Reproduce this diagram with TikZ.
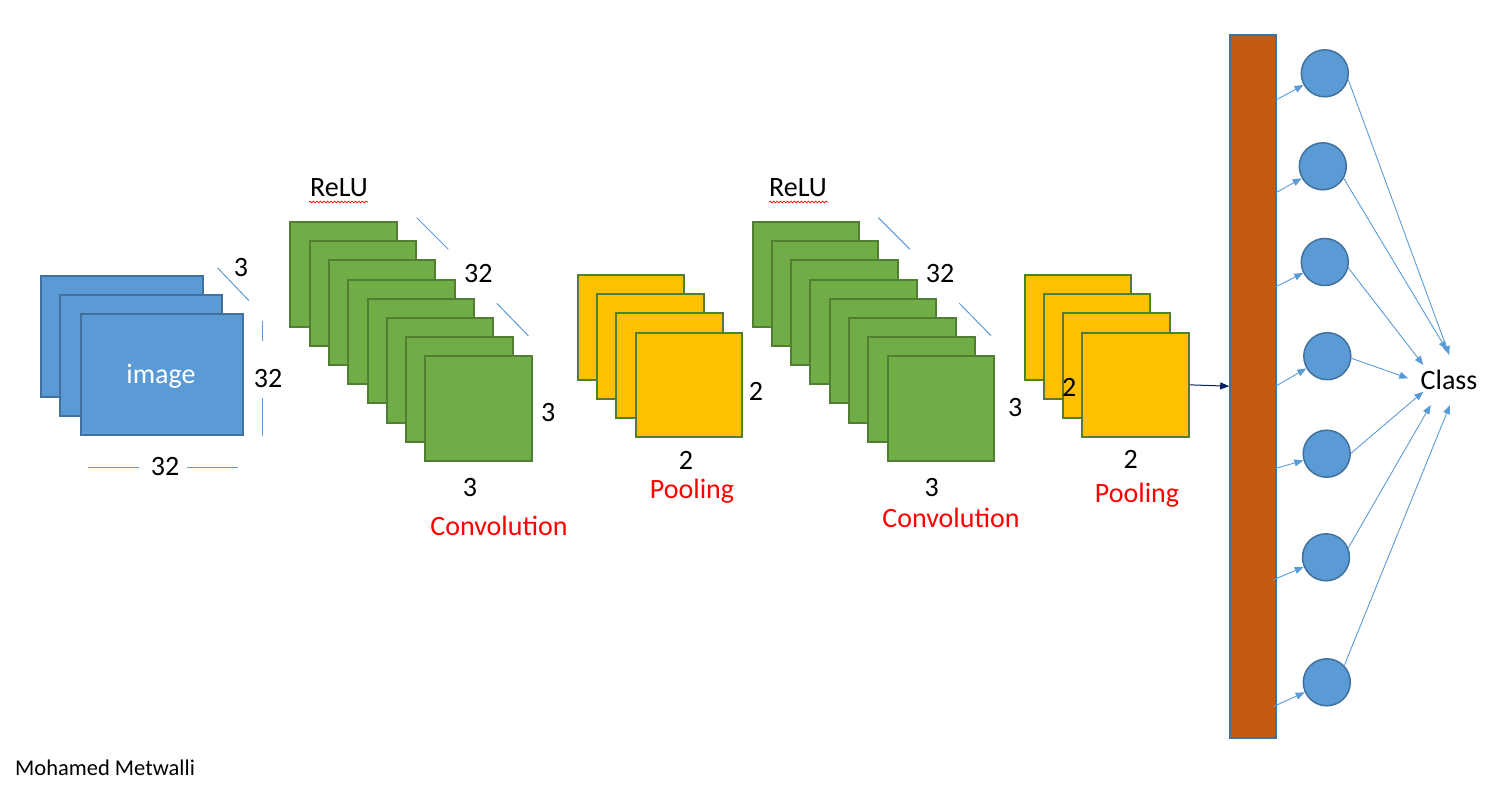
\documentclass[tikz,border=0pt]{standalone}
\usepackage{fontspec}
\setmainfont{Carlito}
\usetikzlibrary{arrows.meta,decorations.pathmorphing}
\definecolor{imgblue}{HTML}{5B9BD5}
\definecolor{imgedge}{HTML}{41719C}
\definecolor{grnfill}{HTML}{70AD47}
\definecolor{grnedge}{HTML}{507E32}
\definecolor{yel}{HTML}{FFC000}
\definecolor{barfill}{HTML}{C55A11}
\definecolor{navy}{HTML}{002060}
\definecolor{lblred}{HTML}{FF0000}
\begin{document}
\begin{tikzpicture}[x=1pt,y=-1pt,
  imgbox/.style={draw=imgedge, fill=imgblue, line width=2pt, inner sep=0pt, anchor=north west, minimum width=162pt, minimum height=121pt},
  grnbox/.style={draw=grnedge, fill=grnfill, line width=2pt, inner sep=0pt, anchor=north west, minimum width=106.5pt, minimum height=104.5pt},
  yelbox/.style={draw=grnedge, fill=yel, line width=2pt, inner sep=0pt, anchor=north west, minimum width=106.5pt, minimum height=104.5pt},
  barbox/.style={draw=imgedge, fill=barfill, line width=2pt, inner sep=0pt, anchor=north west, minimum width=46pt, minimum height=703pt},
  lbl/.style={font=\fontsize{28}{34}\selectfont, inner sep=0pt},
  redlbl/.style={lbl, text=lblred},
  dimline/.style={draw=imgblue, line width=1pt},
  neuron/.style={circle, draw=imgedge, fill=imgblue, line width=1.5pt, minimum size=47pt, inner sep=0pt},
  link/.style={draw=imgblue, line width=0.9pt, -{Triangle[length=9pt,width=7pt]}},
  flatlink/.style={draw=navy, line width=1pt, -{Triangle[length=9pt,width=7pt]}},
  squiggle/.style={draw=lblred, line width=0.7pt, decorate, decoration={snake, amplitude=0.9pt, segment length=3.5pt}}
]
\useasboundingbox (0,0) rectangle (1508,797);

% input image stack
\node[imgbox] (im0) at (40,275) {};
\node[imgbox] (im1) at (59,294) {};
\node[imgbox] (im2) at (80,313) {};
\node[font=\fontsize{28}{34}\selectfont, text=white, inner sep=0pt] (imtxt) at (161,376) {image};

% first convolution stack
\foreach \i in {0,...,7} {
  \node[grnbox] (ga\i) at ({289.3+19.3*\i},{221+19.2*\i}) {};
}
% first pooling stack
\foreach \i in {0,...,3} {
  \node[yelbox] (ya\i) at ({576.8+19.3*\i},{274+19.2*\i}) {};
}
% second convolution stack
\foreach \i in {0,...,7} {
  \node[grnbox] (gb\i) at ({751.5+19.3*\i},{221+19.2*\i}) {};
}
% second pooling stack
\foreach \i in {0,...,3} {
  \node[yelbox] (yb\i) at ({1023.5+19.3*\i},{274+19.2*\i}) {};
}

% fully connected bar
\node[barbox] (bar) at (1229.2,33.7) {};

% neurons
\node[neuron] (c1) at (1324.8,73.3) {};
\node[neuron] (c2) at (1322.8,166.3) {};
\node[neuron] (c3) at (1324.8,262) {};
\node[neuron] (c4) at (1327.3,356.2) {};
\node[neuron] (c5) at (1326.7,453.7) {};
\node[neuron] (c6) at (1326,557.3) {};
\node[neuron] (c7) at (1326.8,682.3) {};

\node[lbl] (class) at (1449,380) {Class};

% flatten arrow
\draw[flatlink] (yb3.east) -- (bar.west);

% bar to neurons
\coordinate (b1) at (1276,100);
\coordinate (b2) at (1276,192.7);
\coordinate (b3) at (1276,286.7);
\coordinate (b4) at (1276,386);
\coordinate (b5) at (1276,468.3);
\coordinate (b6) at (1273,580);
\coordinate (b7) at (1273,706.7);
\foreach \k in {1,...,7} { \draw[link] (b\k) -- (c\k); }

% neurons to class
\coordinate (k1) at (1449.3,355);
\coordinate (k2) at (1446.7,350);
\coordinate (k3) at (1423.3,365);
\coordinate (k4) at (1408.3,378.3);
\coordinate (k5) at (1423.3,391.7);
\coordinate (k6) at (1430.7,405);
\coordinate (k7) at (1450,405);
\draw[link] (c1.-15) -- (k1);
\draw[link] (c2.-30) -- (k2);
\draw[link] (c3.-14) -- (k3);
\draw[link] (c4.-5) -- (k4);
\draw[link] (c5.1) -- (k5);
\draw[link] (c6.23) -- (k6);
\draw[link] (c7.44) -- (k7);

% dimension lines
\draw[dimline] (217.7,268) -- (249,300.7);
\draw[dimline] (262,320.7) -- (262,341);
\draw[dimline] (262,398) -- (262,436);
\draw[dimline] (87.7,467.3) -- (139,467.3);
\draw[dimline] (186.7,467.3) -- (238,467.3);
\draw[dimline] (416.7,217.7) -- (448.3,249.3);
\draw[dimline] (496.7,303.3) -- (528.3,335.7);
\draw[dimline] (878.3,217.7) -- (910,249.3);
\draw[dimline] (959.3,303.3) -- (991,335.7);

% labels
\node[lbl] (l3a) at (241,268) {3};
\node[lbl] (l32a) at (268,379) {32};
\node[lbl] (l32b) at (165,467) {32};

\node[lbl] (relu1) at (339,188) {ReLU};
\draw[squiggle] (309,202) -- (368,202);
\node[lbl] (l32c) at (478.3,274) {32};
\node[lbl] (l3b) at (548.3,413) {3};
\node[lbl] (l3c) at (470,488) {3};
\node[redlbl] (conv1) at (499,526) {Convolution};

\node[lbl] (l2a) at (756,391) {2};
\node[lbl] (l2b) at (686,460) {2};
\node[redlbl] (pool1) at (692,491) {Pooling};

\node[lbl] (relu2) at (798,188) {ReLU};
\draw[squiggle] (769,202) -- (828,202);
\node[lbl] (l32d) at (940,274) {32};
\node[lbl] (l3d) at (1015.3,408) {3};
\node[lbl] (l3e) at (931.7,488) {3};
\node[redlbl] (conv2) at (951,518) {Convolution};

\node[lbl] (l2c) at (1069.3,387) {2};
\node[lbl] (l2d) at (1130.7,459) {2};
\node[redlbl] (pool2) at (1137,495) {Pooling};

\node[font=\fontsize{22.5}{27}\selectfont, inner sep=0pt, anchor=west] (author) at (15,768) {Mohamed Metwalli};
\end{tikzpicture}
\end{document}
